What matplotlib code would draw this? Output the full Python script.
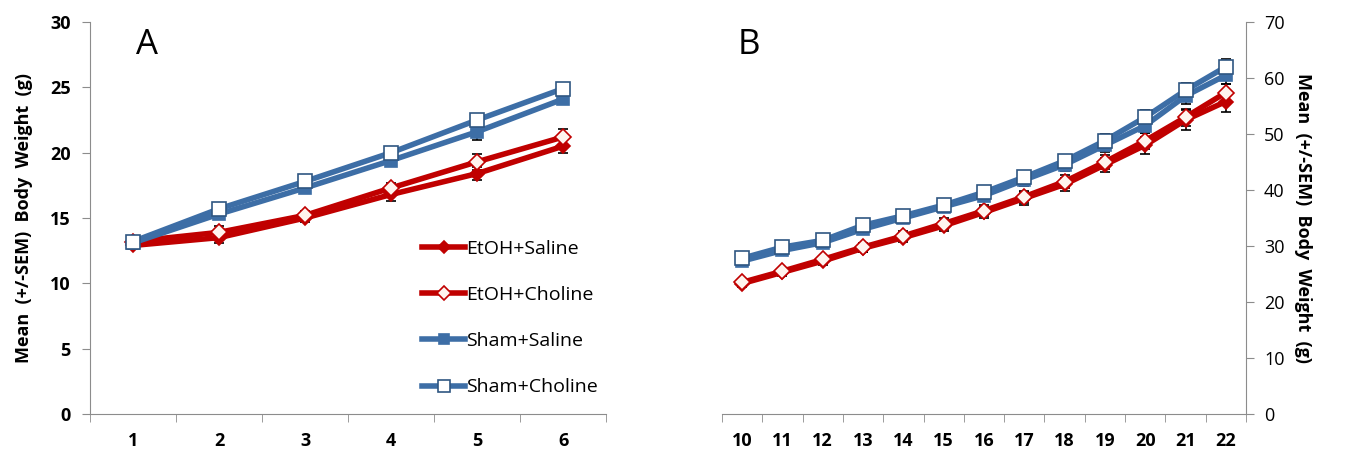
import numpy as np
import matplotlib.pyplot as plt

plt.rcParams['font.family'] = ['Open Sans', 'DejaVu Sans']

# panel A: days 1-6
days_a = [1, 2, 3, 4, 5, 6]
etoh_saline_a = [12.9, 13.5, 15.0, 16.8, 18.4, 20.5]
etoh_choline_a = [13.2, 13.9, 15.2, 17.3, 19.3, 21.2]
sham_saline_a = [13.1, 15.3, 17.3, 19.4, 21.6, 24.1]
sham_choline_a = [13.2, 15.7, 17.8, 20.0, 22.5, 24.9]
sem_etoh_saline_a = [0.3, 0.4, 0.3, 0.5, 0.5, 0.5]
sem_etoh_choline_a = [0.4, 0.5, 0.3, 0.4, 0.6, 0.6]
sem_sham_saline_a = [0.3, 0.3, 0.3, 0.3, 0.6, 0.3]
sem_sham_choline_a = [0.4, 0.3, 0.3, 0.3, 0.3, 0.3]

# panel B: days 10-22
days_b = list(range(10, 23))
etoh_saline_b = [23.3, 25.3, 27.3, 29.6, 31.5, 33.6, 36.0, 38.5, 41.0, 44.5, 48.0, 52.5, 55.8]
etoh_choline_b = [23.5, 25.5, 27.6, 29.8, 31.8, 34.0, 36.3, 38.8, 41.5, 45.0, 48.8, 53.0, 57.4]
sham_saline_b = [27.3, 29.2, 30.6, 33.0, 35.0, 37.0, 39.0, 41.8, 44.5, 48.0, 51.5, 56.8, 60.5]
sham_choline_b = [27.8, 29.8, 31.0, 33.7, 35.4, 37.3, 39.6, 42.3, 45.2, 48.8, 53.0, 57.8, 62.0]
sem_etoh_saline_b = [0.6, 0.6, 0.7, 0.7, 0.8, 0.9, 1.0, 1.1, 1.2, 1.3, 1.5, 1.7, 1.8]
sem_etoh_choline_b = [0.6, 0.6, 0.7, 0.8, 0.9, 1.0, 1.0, 1.1, 1.2, 1.3, 1.4, 1.5, 1.6]
sem_sham_saline_b = [0.6, 0.6, 0.7, 0.7, 0.8, 0.8, 0.9, 1.0, 1.1, 1.2, 1.4, 1.5, 1.6]
sem_sham_choline_b = [0.6, 0.6, 0.6, 0.7, 0.7, 0.8, 0.9, 1.0, 1.1, 1.2, 1.2, 1.3, 1.4]

labels = ['EtOH+Saline', 'EtOH+Choline', 'Sham+Saline', 'Sham+Choline']
red = '#c00000'
blue = '#3d6ea6'
styles = [
    dict(color=red, marker='D', mfc=red, mec=red, ms=7),
    dict(color=red, marker='D', mfc='#fff4ee', mec=red, ms=8),
    dict(color=blue, marker='s', mfc=blue, mec=blue, ms=8),
    dict(color=blue, marker='s', mfc='white', mec='#2f5682', ms=10),
]

fig = plt.figure(figsize=(13.53, 4.66), dpi=100)
axA = fig.add_axes([0.0665, 0.1116, 0.3815, 0.8412])
axB = fig.add_axes([0.5336, 0.1116, 0.3873, 0.8412])


def draw(ax, x, series, sems):
    for y, e, st, lab in zip(series, sems, styles, labels):
        ax.errorbar(x, y, yerr=e, fmt='none', ecolor='black', elinewidth=1.2,
                    capsize=3.5, capthick=1.2, zorder=2)
        ax.plot(x, y, lw=4, label=lab, zorder=3, markeredgewidth=1.2, **st)


draw(axA, days_a, [etoh_saline_a, etoh_choline_a, sham_saline_a, sham_choline_a],
     [sem_etoh_saline_a, sem_etoh_choline_a, sem_sham_saline_a, sem_sham_choline_a])
draw(axB, days_b, [etoh_saline_b, etoh_choline_b, sham_saline_b, sham_choline_b],
     [sem_etoh_saline_b, sem_etoh_choline_b, sem_sham_saline_b, sem_sham_choline_b])

spine_col = '#8c8c8c'

# panel A axes
axA.set_xlim(0.5, 6.5)
axA.set_ylim(0, 30)
axA.set_yticks(np.arange(0, 31, 5))
axA.set_xticks(days_a)
axA.set_xticks(np.arange(0.5, 7, 1), minor=True)
axA.tick_params(axis='x', which='major', length=0, pad=13)
axA.tick_params(axis='x', which='minor', length=6, color=spine_col, direction='out')
axA.tick_params(axis='y', length=6, color=spine_col, direction='out', pad=8)
for lab in axA.get_xticklabels() + axA.get_yticklabels():
    lab.set_fontweight('bold')
    lab.set_fontsize(13)
axA.spines['top'].set_visible(False)
axA.spines['right'].set_visible(False)
axA.spines['left'].set_color(spine_col)
axA.spines['bottom'].set_color(spine_col)
axA.set_ylabel('Mean  (+/-SEM)  Body  Weight  (g)', fontsize=13, fontweight='bold', labelpad=12)
axA.text(0.09, 0.985, 'A', transform=axA.transAxes, fontsize=25, va='top')
axA.legend(loc='lower left', bbox_to_anchor=(0.61, 0.0), frameon=False, fontsize=14,
           handlelength=2.2, handletextpad=0.05, labelspacing=1.45, markerscale=0.9)

# panel B axes
axB.set_xlim(9.5, 22.5)
axB.set_ylim(0, 70)
axB.set_yticks(np.arange(0, 71, 10))
axB.set_xticks(days_b)
axB.set_xticks(np.arange(9.5, 23, 1), minor=True)
axB.tick_params(axis='x', which='major', length=0, pad=13)
axB.tick_params(axis='x', which='minor', length=6, color=spine_col, direction='out')
axB.yaxis.tick_right()
axB.yaxis.set_label_position('right')
axB.tick_params(axis='y', length=6, color=spine_col, direction='out', labelsize=13, pad=7)
for lab in axB.get_xticklabels():
    lab.set_fontweight('bold')
    lab.set_fontsize(13)
axB.spines['top'].set_visible(False)
axB.spines['left'].set_visible(False)
axB.spines['right'].set_color(spine_col)
axB.spines['bottom'].set_color(spine_col)
axB.set_ylabel('Mean  (+/-SEM)  Body  Weight  (g)', fontsize=13, fontweight='bold',
               rotation=270, labelpad=20)
axB.text(0.03, 0.985, 'B', transform=axB.transAxes, fontsize=25, va='top')

fig.savefig('out.png', dpi=100)
